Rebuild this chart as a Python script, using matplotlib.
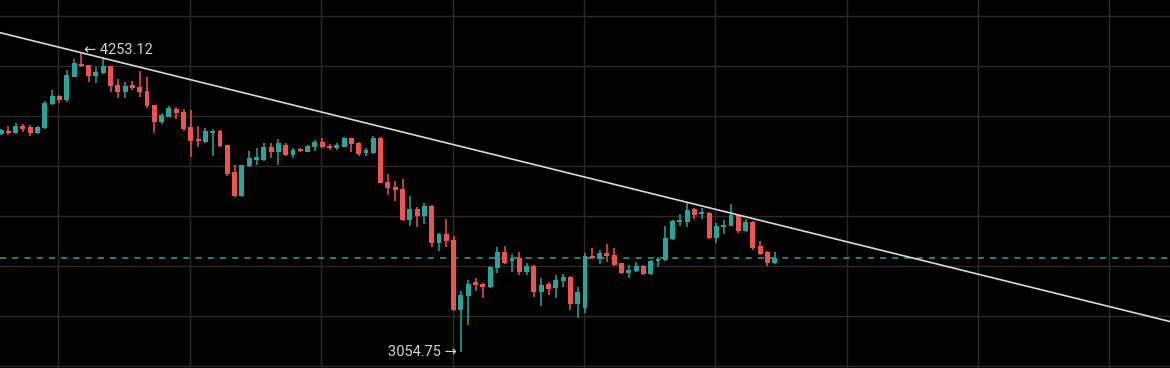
import matplotlib
matplotlib.use("Agg")
import matplotlib.pyplot as plt
import numpy as np

# OHLC, one candle per entry (oldest first)
opens = [3928, 3941, 3931, 3961, 3955, 3931, 3951, 4047, 4080, 4064,
         4157, 4207, 4204, 4161, 4171, 4200, 4124, 4097, 4123, 4116,
         4100, 4043, 3976, 3997, 4029, 4017, 3957, 3909, 3897, 3933,
         3941, 3884, 3776, 3680, 3800, 3825, 3824, 3876, 3857, 3884,
         3844, 3869, 3857, 3877, 3897, 3880, 3871, 3877, 3911, 3891,
         3851, 3851, 3912, 3737, 3715, 3708, 3584, 3629, 3600, 3640,
         3491, 3528, 3504, 3224, 3280, 3336, 3328, 3317, 3391, 3455,
         3420, 3431, 3375, 3400, 3297, 3327, 3311, 3341, 3356, 3249,
         3231, 3440, 3428, 3451, 3444, 3411, 3371, 3380, 3401, 3367,
         3420, 3423, 3507, 3577, 3577, 3628, 3607, 3611, 3511, 3557,
         3561, 3604, 3540, 3577, 3481, 3457, 3411]
highs = [3948, 3960, 3971, 3968, 3963, 3960, 4059, 4104, 4084, 4184,
         4228, 4253.12, 4206, 4195, 4237, 4202, 4147, 4137, 4140, 4180,
         4157, 4044, 4011, 4040, 4037, 4029, 4024, 3960, 3951, 3947,
         3944, 3886, 3803, 3806, 3861, 3873, 3891, 3891, 3908, 3891,
         3871, 3872, 3884, 3904, 3911, 3887, 3891, 3917, 3914, 3897,
         3871, 3920, 3915, 3767, 3741, 3747, 3680, 3637, 3653, 3643,
         3533, 3587, 3520, 3300, 3344, 3351, 3332, 3400, 3477, 3480,
         3447, 3455, 3411, 3404, 3351, 3335, 3364, 3368, 3360, 3315,
         3451, 3473, 3464, 3487, 3471, 3413, 3404, 3415, 3404, 3424,
         3437, 3561, 3584, 3607, 3655, 3633, 3631, 3615, 3573, 3584,
         3647, 3607, 3588, 3580, 3500, 3460, 3455]
lows = [3924, 3924, 3928, 3936, 3921, 3928, 3948, 4044, 4051, 4057,
        4156, 4198, 4137, 4131, 4168, 4097, 4071, 4071, 4104, 4077,
        4031, 3933, 3968, 3995, 3987, 3941, 3837, 3877, 3891, 3840,
        3878, 3760, 3678, 3678, 3798, 3804, 3822, 3833, 3804, 3840,
        3831, 3857, 3855, 3860, 3871, 3864, 3864, 3875, 3857, 3841,
        3841, 3849, 3731, 3684, 3661, 3582, 3560, 3557, 3568, 3475,
        3461, 3475, 3222, 3054.75, 3164, 3300, 3273, 3312, 3371, 3409,
        3375, 3364, 3364, 3275, 3241, 3284, 3271, 3317, 3224, 3193,
        3211, 3428, 3407, 3417, 3402, 3369, 3353, 3376, 3364, 3364,
        3397, 3421, 3505, 3561, 3555, 3588, 3588, 3507, 3491, 3527,
        3559, 3531, 3537, 3464, 3445, 3401, 3409]
closes = [3944, 3931, 3960, 3948, 3931, 3955, 4051, 4080, 4064, 4164,
          4211, 4200, 4160, 4176, 4201, 4120, 4097, 4121, 4112, 4096,
          4040, 3977, 4003, 4031, 4011, 3948, 3900, 3901, 3940, 3941,
          3880, 3768, 3680, 3804, 3831, 3836, 3877, 3857, 3891, 3844,
          3864, 3861, 3881, 3897, 3877, 3871, 3884, 3911, 3887, 3847,
          3864, 3913, 3734, 3711, 3704, 3584, 3628, 3600, 3640, 3491,
          3528, 3501, 3224, 3284, 3328, 3324, 3315, 3397, 3455, 3414,
          3431, 3377, 3400, 3297, 3324, 3308, 3344, 3355, 3249, 3295,
          3440, 3431, 3451, 3441, 3404, 3371, 3385, 3401, 3367, 3420,
          3428, 3513, 3580, 3584, 3624, 3604, 3615, 3511, 3560, 3564,
          3604, 3540, 3577, 3473, 3447, 3411, 3431]

# trend line anchors (candle index, price), runs edge to edge
trend_x = [-1, 161]
trend_y = [4339.6, 3171.6]

price_grid = [3000, 3200, 3400, 3600, 3800, 4000, 4200, 4400]
time_grid = [7.85, 25.85, 43.85, 61.85, 79.85, 97.85, 115.85, 133.85, 151.85]

UP = "#26a69a"
DOWN = "#ef5350"
BG = "#000000"
GRID = "#2a2a2a"
TXT = "#d1d4dc"

o = np.array(opens, float)
h = np.array(highs, float)
l = np.array(lows, float)
c = np.array(closes, float)
idx = np.arange(len(o))
colors = [UP if cc >= oo else DOWN for oo, cc in zip(o, c)]

fig = plt.figure(figsize=(11.7, 3.68), dpi=100, facecolor=BG)
ax = fig.add_axes([0, 0, 1, 1], facecolor=BG)

ax.vlines(idx, l, h, colors=colors, linewidth=1.1, zorder=3)
body_lo = np.minimum(o, c)
body_h = np.maximum(np.abs(c - o), 4)
ax.bar(idx, body_h, bottom=body_lo, width=0.68, color=colors,
       linewidth=0, zorder=4)

# last price line
ax.axhline(closes[-1], color=UP, linewidth=1.1, linestyle=(0, (4, 4)),
           zorder=2)

# descending trend line
ax.plot(trend_x, trend_y, color="#d9d9d9", linewidth=1.2, zorder=5)

# high / low markers
ih = int(np.argmax(h))
il = int(np.argmin(l))
ax.annotate(f"\u2190 {h[ih]:.2f}", xy=(ih, h[ih]), xytext=(2, 2),
            textcoords="offset points", ha="left", va="center",
            fontsize=10.5, color=TXT, family=["Roboto", "DejaVu Sans"],
            zorder=6)
ax.annotate(f"{l[il]:.2f} \u2192", xy=(il, l[il]), xytext=(-3, 0),
            textcoords="offset points", ha="right", va="center",
            fontsize=10.5, color=TXT, family=["Roboto", "DejaVu Sans"],
            zorder=6)

ax.set_xlim(-0.14, 160.14)
ax.set_ylim(2992, 4464)
ax.set_xticks(time_grid)
ax.set_yticks(price_grid)
ax.grid(True, color=GRID, linewidth=1.0, zorder=0)
ax.tick_params(length=0, labelbottom=False, labelleft=False)
for s in ax.spines.values():
    s.set_visible(False)

fig.savefig("out.png", dpi=100, facecolor=BG)
